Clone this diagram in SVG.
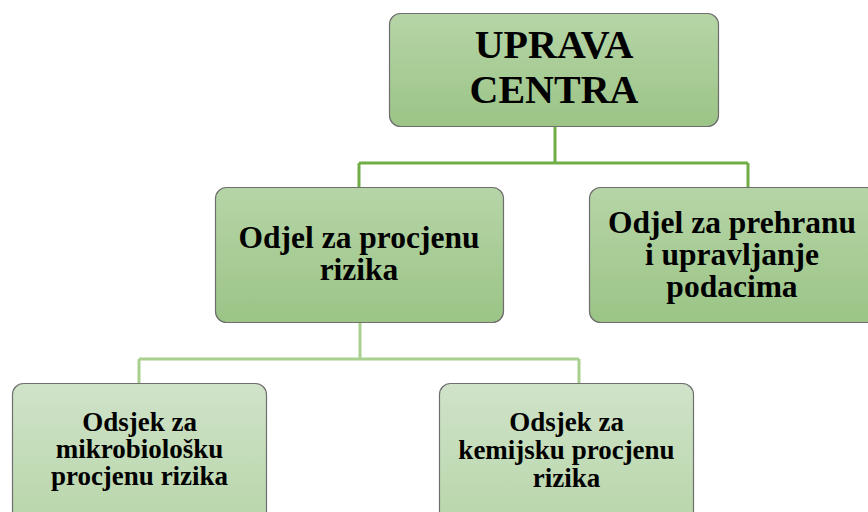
<svg xmlns="http://www.w3.org/2000/svg" width="868" height="512" viewBox="0 0 868 512">
<defs>
<linearGradient id="gDark" x1="0" y1="0" x2="0" y2="1">
<stop offset="0" stop-color="#b6d5a7"/>
<stop offset="1" stop-color="#9bc486"/>
</linearGradient>
<linearGradient id="gLight" x1="0" y1="0" x2="0" y2="1">
<stop offset="0" stop-color="#d0e3c9"/>
<stop offset="1" stop-color="#b8d6aa"/>
</linearGradient>
</defs>
<rect width="868" height="512" fill="#ffffff"/>
<g id="connectors" fill="none" stroke-width="3">
<path stroke="#70ad47" d="M555 127 V163 M359 163 H748 M359 163 V187 M748 163 V187"/>
<path stroke="#a9d08e" d="M360 323 V359 M139 359 H579 M139 359 V383 M579 359 V383"/>
</g>
<g id="uprava-centra">
<rect fill="url(#gDark)" stroke="#6e6e6e" stroke-width="1.2" x="389.5" y="13.5" width="329" height="113" rx="11"/>
<text x="554" y="58" font-family="Times New Roman, Liberation Serif, serif" font-weight="bold" font-size="40" text-anchor="middle">UPRAVA</text>
<text x="554" y="103" font-family="Times New Roman, Liberation Serif, serif" font-weight="bold" font-size="40" text-anchor="middle">CENTRA</text>
</g>
<g id="odjel-procjena">
<rect fill="url(#gDark)" stroke="#6e6e6e" stroke-width="1.2" x="215.5" y="187.5" width="288" height="135" rx="11"/>
<text x="359" y="248" font-family="Times New Roman, Liberation Serif, serif" font-weight="bold" font-size="31.5" text-anchor="middle">Odjel za procjenu</text>
<text x="359" y="280" font-family="Times New Roman, Liberation Serif, serif" font-weight="bold" font-size="31.5" text-anchor="middle">rizika</text>
</g>
<g id="odjel-prehrana">
<rect fill="url(#gDark)" stroke="#6e6e6e" stroke-width="1.2" x="589.5" y="187.5" width="288" height="135" rx="11"/>
<text x="732" y="233" font-family="Times New Roman, Liberation Serif, serif" font-weight="bold" font-size="31.5" text-anchor="middle">Odjel za prehranu</text>
<text x="732" y="265" font-family="Times New Roman, Liberation Serif, serif" font-weight="bold" font-size="31.5" text-anchor="middle">i upravljanje</text>
<text x="732" y="297" font-family="Times New Roman, Liberation Serif, serif" font-weight="bold" font-size="31.5" text-anchor="middle">podacima</text>
</g>
<g id="odsjek-mikro">
<rect fill="url(#gLight)" stroke="#6e6e6e" stroke-width="1.2" x="12.5" y="383.5" width="254" height="140" rx="11"/>
<text x="139.5" y="431" font-family="Times New Roman, Liberation Serif, serif" font-weight="bold" font-size="27" text-anchor="middle">Odsjek za</text>
<text x="139.5" y="458" font-family="Times New Roman, Liberation Serif, serif" font-weight="bold" font-size="27" text-anchor="middle">mikrobiološku</text>
<text x="139.5" y="485" font-family="Times New Roman, Liberation Serif, serif" font-weight="bold" font-size="27" text-anchor="middle">procjenu rizika</text>
</g>
<g id="odsjek-kemija">
<rect fill="url(#gLight)" stroke="#6e6e6e" stroke-width="1.2" x="439.5" y="383.5" width="254" height="140" rx="11"/>
<text x="566.5" y="431" font-family="Times New Roman, Liberation Serif, serif" font-weight="bold" font-size="27" text-anchor="middle">Odsjek za</text>
<text x="566.5" y="459" font-family="Times New Roman, Liberation Serif, serif" font-weight="bold" font-size="27" text-anchor="middle">kemijsku procjenu</text>
<text x="566.5" y="487" font-family="Times New Roman, Liberation Serif, serif" font-weight="bold" font-size="27" text-anchor="middle">rizika</text>
</g>
</svg>
